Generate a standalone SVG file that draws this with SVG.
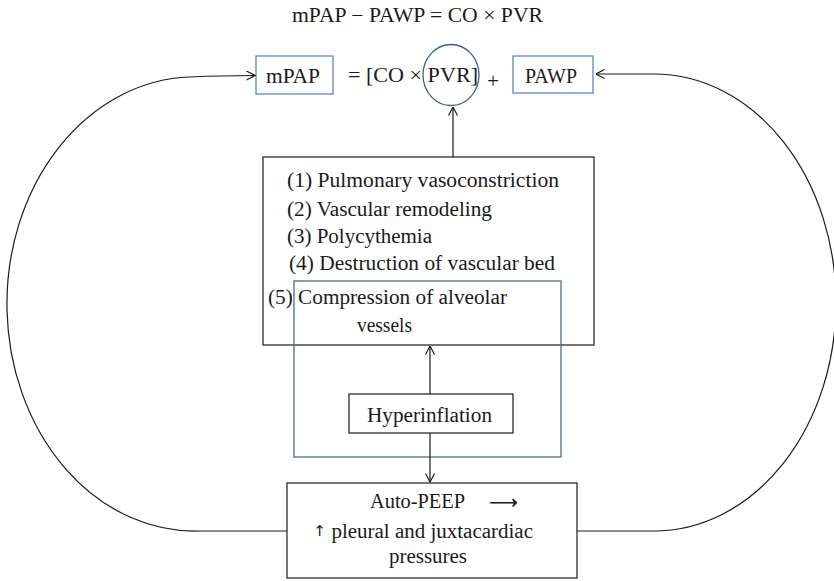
<svg xmlns="http://www.w3.org/2000/svg" width="834" height="581" viewBox="0 0 834 581">
<style>
text{font-family:"Liberation Serif","DejaVu Serif",serif;font-size:20px;fill:#1a1a1a}
.sym{font-family:"DejaVu Sans","Liberation Sans",sans-serif}
.bk{fill:none;stroke:#2b2b2b;stroke-width:1.3}
.bkw{fill:#fff;stroke:#2b2b2b;stroke-width:1.3}
.bl{fill:none;stroke:#5a87c6;stroke-width:1.3}
.bl2{fill:none;stroke:#4a6c9b;stroke-width:1.3}
.cn{fill:none;stroke:#1a1a1a;stroke-width:1.2}
</style>
<defs>
<marker id="ah" viewBox="0 0 10 10" refX="9.5" refY="5" markerWidth="10" markerHeight="10" markerUnits="userSpaceOnUse" orient="auto">
<path d="M1,0.5 L9.5,5 L1,9.5" fill="none" stroke="#1a1a1a" stroke-width="1.2"/>
</marker>
</defs>
<text id="title" x="292" y="22" textLength="251" lengthAdjust="spacingAndGlyphs">mPAP − PAWP = CO × PVR</text>
<g id="mpap">
<rect class="bl" x="256" y="56" width="77" height="38"/>
<text x="266" y="83" textLength="54" lengthAdjust="spacingAndGlyphs">mPAP</text>
</g>
<g id="equation">
<text x="348" y="82" textLength="130" lengthAdjust="spacingAndGlyphs">= [CO × PVR]</text>
<text x="487" y="88" textLength="12" lengthAdjust="spacingAndGlyphs">+</text>
</g>
<g id="pvr">
<ellipse cx="451" cy="75" rx="28" ry="30.5" fill="none" stroke="#3e6190" stroke-width="1.3"/>
</g>
<g id="pawp">
<rect class="bl" x="513" y="56" width="80" height="37"/>
<text x="525" y="83" textLength="52" lengthAdjust="spacingAndGlyphs">PAWP</text>
</g>
<g id="causes">
<rect class="bk" x="263" y="157" width="331" height="188"/>
<text x="287" y="187" textLength="272" lengthAdjust="spacingAndGlyphs">(1) Pulmonary vasoconstriction</text>
<text x="287" y="216" textLength="205" lengthAdjust="spacingAndGlyphs">(2) Vascular remodeling</text>
<text x="287" y="243" textLength="145" lengthAdjust="spacingAndGlyphs">(3) Polycythemia</text>
<text x="289" y="270" textLength="266" lengthAdjust="spacingAndGlyphs">(4) Destruction of vascular bed</text>
<text x="268" y="304" textLength="239" lengthAdjust="spacingAndGlyphs">(5) Compression of alveolar</text>
<text x="357" y="332" textLength="55" lengthAdjust="spacingAndGlyphs">vessels</text>
</g>
<g id="compression">
<rect class="bl2" x="294" y="281" width="267" height="176"/>
</g>
<g id="hyperinflation">
<rect class="bkw" x="349" y="394" width="164" height="39"/>
<text x="367" y="422" textLength="125" lengthAdjust="spacingAndGlyphs">Hyperinflation</text>
</g>
<g id="autopeep">
<rect class="bk" x="287" y="483" width="290" height="95"/>
<text x="370" y="508" textLength="95" lengthAdjust="spacingAndGlyphs">Auto-PEEP</text>
<text class="sym" x="489" y="509" textLength="29" lengthAdjust="spacingAndGlyphs">⟶</text>
<text x="313" y="538" textLength="220" lengthAdjust="spacingAndGlyphs"><tspan class="sym" font-size="15" dy="-2">↑</tspan><tspan dy="2"> pleural and juxtacardiac</tspan></text>
<text x="389" y="563" textLength="78" lengthAdjust="spacingAndGlyphs">pressures</text>
</g>
<g id="connectors">
<path class="cn" d="M453,157 V107" marker-end="url(#ah)"/>
<path class="cn" d="M430,394 V346" marker-end="url(#ah)"/>
<path class="cn" d="M430,433 V482" marker-end="url(#ah)"/>
<path class="cn" d="M287,531 H200 A188,227 0 0 1 190,77 Q220,75.5 255,75.5" marker-end="url(#ah)"/>
<path class="cn" d="M577,531 H654 A182,228.5 0 0 0 654,74 H596" marker-end="url(#ah)"/>
</g>
</svg>
